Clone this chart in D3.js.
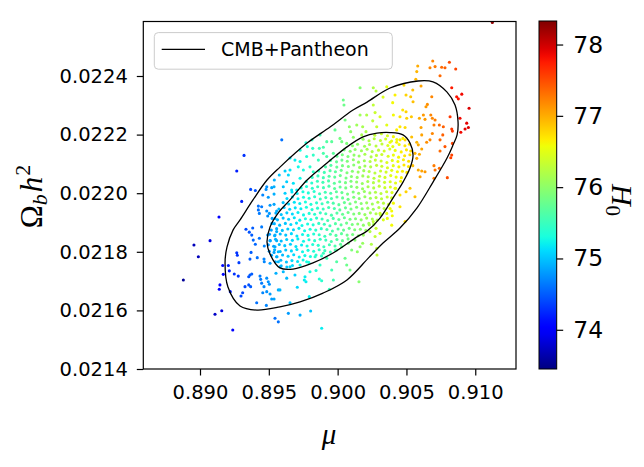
<!DOCTYPE html>
<html>
<head>
<meta charset="utf-8">
<script src="https://cdn.jsdelivr.net/npm/d3@7"></script>
<style>
  body { margin: 0; background: #fff; }
</style>
</head>
<body>
<div id="vis"></div>
<script>
const X_TICKS = [0.890, 0.895, 0.900, 0.905, 0.910];
const Y_TICKS = [0.0214, 0.0216, 0.0218, 0.0220, 0.0222, 0.0224];
const H0_TICKS = [74, 75, 76, 77, 78];
const MU_DOMAIN = [0.88588, 0.91296];
const OMB_DOMAIN = [0.0214, 0.022586];
const H0_DOMAIN = [73.45, 78.33];
const LEGEND_LABEL = "CMB+Pantheon";

// contour lines, [mu, Omega_b h^2]
const outerContour = [[0.90584,0.022383],[0.90693,0.022380],[0.90795,0.022345],[0.90853,0.022301],[0.90875,0.022243],[0.90868,0.022199],[0.90839,0.022165],[0.90795,0.022120],[0.90693,0.022038],[0.90577,0.021950],[0.90453,0.021881],[0.90330,0.021830],[0.90228,0.021781],[0.90068,0.021704],[0.89894,0.021659],[0.89727,0.021629],[0.89581,0.021612],[0.89414,0.021601],[0.89291,0.021615],[0.89203,0.021680],[0.89182,0.021762],[0.89196,0.021816],[0.89240,0.021874],[0.89291,0.021909],[0.89385,0.021977],[0.89487,0.022045],[0.89581,0.022089],[0.89778,0.022171],[0.89945,0.022226],[0.90112,0.022284],[0.90214,0.022311],[0.90381,0.022359]];
const innerContour = [[0.90286,0.022205],[0.90381,0.022207],[0.90475,0.022199],[0.90526,0.022171],[0.90548,0.022130],[0.90526,0.022086],[0.90475,0.022038],[0.90403,0.021984],[0.90308,0.021915],[0.90214,0.021871],[0.90141,0.021851],[0.89967,0.021796],[0.89821,0.021762],[0.89676,0.021741],[0.89581,0.021745],[0.89509,0.021792],[0.89487,0.021833],[0.89509,0.021885],[0.89574,0.021936],[0.89654,0.021977],[0.89778,0.022045],[0.89923,0.022103],[0.90068,0.022158],[0.90185,0.022192]];

// samples, [mu, Omega_b h^2, H0]
const tailSamples = [[0.88879,0.021704,73.55],[0.88956,0.021823,73.7],[0.88988,0.021783,73.7],[0.89073,0.021838,73.85],[0.89138,0.021919,74.0],[0.89109,0.021587,73.75],[0.89158,0.021599,73.85],[0.89238,0.021533,74.0],[0.89267,0.022076,74.2],[0.89320,0.022129,74.3],[0.89140,0.021672,74.0],[0.89145,0.021687,74.0],[0.89303,0.021972,74.2],[0.89368,0.022013,74.4],[0.89402,0.022009,74.45],[0.89594,0.022182,74.6],[0.89545,0.021573,74.6],[0.89569,0.021561,74.6],[0.89642,0.021590,74.8],[0.89727,0.021584,74.9],[0.89804,0.021598,75.0],[0.89884,0.021539,75.2],[0.90163,0.022360,75.95],[0.90259,0.022360,76.2],[0.90279,0.022349,76.25],[0.90357,0.022363,76.5],[0.90041,0.022318,75.8],[0.90046,0.022301,75.8],[0.91124,0.022583,78.25]];

const lowerLeftSamples = [[0.89165,0.021753,74.1],[0.89206,0.021753,74.2],[0.89169,0.021723,74.1],[0.89213,0.021735,74.2],[0.89249,0.021724,74.3],[0.89278,0.021717,74.3],[0.89267,0.021797,74.3],[0.89271,0.021788,74.3],[0.89283,0.021763,74.35],[0.89220,0.021664,74.2],[0.89298,0.021649,74.4],[0.89310,0.021660,74.4],[0.89327,0.021681,74.4],[0.89354,0.021715,74.45],[0.89363,0.021721,74.5],[0.89376,0.021724,74.5],[0.89354,0.021687,74.45],[0.89368,0.021681,74.5],[0.89363,0.021775,74.5],[0.89371,0.021798,74.5],[0.89416,0.021780,74.6],[0.89412,0.021626,74.6],[0.89482,0.021617,74.7],[0.89334,0.021877,74.4],[0.89358,0.021867,74.45],[0.89383,0.021881,74.5],[0.89376,0.021857,74.5],[0.89387,0.021840,74.55],[0.89402,0.021826,74.55],[0.89448,0.021885,74.65],[0.89431,0.021846,74.6],[0.89465,0.021775,74.7],[0.89436,0.021717,74.65],[0.89441,0.021706,74.65],[0.89448,0.021693,74.65],[0.89485,0.021710,74.75],[0.89496,0.021698,74.75],[0.89504,0.021689,74.75],[0.89465,0.021681,74.7],[0.89456,0.021660,74.7],[0.89485,0.021664,74.75],[0.89509,0.021656,74.8],[0.89521,0.021639,74.8],[0.89538,0.021639,74.85],[0.89569,0.021670,74.9],[0.89523,0.021897,74.85],[0.89557,0.021869,74.9],[0.89545,0.021857,74.9],[0.89492,0.021857,74.8],[0.89509,0.021838,74.8],[0.89557,0.021838,74.9],[0.89545,0.021817,74.9],[0.89538,0.021798,74.85],[0.89569,0.021800,74.95],[0.89557,0.021783,74.9],[0.89569,0.021766,74.95],[0.89552,0.021727,74.9],[0.89581,0.021749,75.0],[0.89467,0.021766,74.7],[0.89509,0.021761,74.8],[0.89467,0.021820,74.7]];

const upperLeftSamples = [[0.89485,0.022022,74.75],[0.89480,0.022013,74.75],[0.89521,0.022019,74.85],[0.89538,0.022022,74.9],[0.89456,0.021994,74.7],[0.89496,0.021986,74.8],[0.89538,0.021997,74.9],[0.89576,0.022062,75.0],[0.89540,0.022045,74.9],[0.89424,0.021956,74.6],[0.89448,0.021954,74.65],[0.89509,0.021959,74.8],[0.89538,0.021962,74.85],[0.89424,0.021943,74.6],[0.89485,0.021939,74.75],[0.89504,0.021931,74.8],[0.89557,0.021939,74.9],[0.89431,0.021931,74.65],[0.89492,0.021922,74.75],[0.89545,0.021914,74.9],[0.89770,0.022172,75.35],[0.89780,0.022159,75.35],[0.89819,0.022153,75.45],[0.89867,0.022153,75.55],[0.89896,0.022157,75.6],[0.89921,0.022176,75.65],[0.89957,0.022176,75.7],[0.90017,0.022187,75.85],[0.90030,0.022176,75.85],[0.90095,0.022210,76.0],[0.90085,0.022227,76.0],[0.90139,0.022233,76.1],[0.90182,0.022227,76.15],[0.90211,0.022267,76.2],[0.90272,0.022275,76.35],[0.90308,0.022261,76.45],[0.90255,0.022247,76.3],[0.90284,0.022227,76.35],[0.90206,0.022210,76.2],[0.90175,0.022199,76.15],[0.90114,0.022191,76.0],[0.90066,0.022170,75.9],[0.89969,0.022136,75.7],[0.89921,0.022125,75.6],[0.89896,0.022136,75.6],[0.89823,0.022130,75.45],[0.89860,0.022113,75.5],[0.89775,0.022125,75.35],[0.89727,0.022108,75.25],[0.89690,0.022113,75.2],[0.89654,0.022079,75.15],[0.89618,0.022076,75.05],[0.89642,0.022062,75.1],[0.89714,0.022090,75.25],[0.89751,0.022079,75.3],[0.89799,0.022090,75.4],[0.89823,0.022073,75.45],[0.89727,0.022051,75.25],[0.89678,0.022034,75.15],[0.89630,0.022039,75.05],[0.89605,0.022022,75.0],[0.89666,0.022011,75.15],[0.89618,0.022000,75.05],[0.89703,0.022011,75.2],[0.90259,0.022301,76.3],[0.90163,0.022267,76.1],[0.90357,0.022233,76.5],[0.90405,0.022267,76.6],[0.90330,0.022328,76.45],[0.90417,0.022335,76.65],[0.89872,0.022199,75.55],[0.89981,0.022216,75.75],[0.89814,0.022182,75.45],[0.89727,0.022147,75.3],[0.89654,0.022120,75.15],[0.90054,0.022250,75.85]];

const lowerSamples = [[0.89581,0.021670,74.95],[0.89707,0.021679,75.1],[0.89758,0.021704,75.2],[0.89770,0.021698,75.2],[0.89867,0.021707,75.35],[0.89884,0.021701,75.4],[0.89940,0.021672,75.5],[0.89969,0.021704,75.55],[0.89843,0.021736,75.35],[0.89957,0.021738,75.55],[0.90066,0.021755,75.8],[0.90155,0.021698,75.95],[0.90090,0.021738,75.85],[0.89654,0.021626,75.0],[0.89794,0.021647,75.2],[0.90286,0.021789,76.3],[0.90284,0.021812,76.3],[0.90245,0.021826,76.2],[0.90143,0.021800,76.0],[0.90102,0.021806,75.9],[0.90182,0.021829,76.05],[0.90230,0.021892,76.2],[0.90308,0.021863,76.4],[0.90332,0.021909,76.45],[0.90308,0.021931,76.4],[0.89654,0.021749,75.1],[0.89727,0.021755,75.25],[0.89775,0.021766,75.3],[0.89836,0.021783,75.4],[0.89896,0.021795,75.5],[0.89921,0.021778,75.55],[0.89993,0.021806,75.7],[0.90030,0.021817,75.75],[0.90078,0.021829,75.85],[0.90126,0.021840,75.95],[0.90187,0.021857,76.05],[0.90235,0.021869,76.2],[0.90163,0.021817,76.0],[0.90054,0.021778,75.8],[0.89993,0.021766,75.65],[0.89872,0.021755,75.45],[0.89799,0.021732,75.3],[0.89763,0.021715,75.2],[0.89690,0.021721,75.05],[0.89630,0.021710,74.95],[0.89605,0.021732,74.95]];

const rightSamples = [[0.90586,0.022165,77.0],[0.90611,0.022151,77.05],[0.90562,0.022136,76.95],[0.90594,0.022133,77.0],[0.90575,0.022119,77.0],[0.90546,0.022094,76.9],[0.90586,0.022079,77.0],[0.90611,0.022076,77.05],[0.90635,0.022073,77.1],[0.90700,0.022094,77.25],[0.90739,0.022085,77.35],[0.90708,0.022079,77.3],[0.90744,0.022144,77.35],[0.90780,0.022159,77.45],[0.90797,0.022053,77.5],[0.90822,0.022121,77.55],[0.90829,0.022130,77.55],[0.90700,0.022051,77.25],[0.90599,0.022056,77.05],[0.90526,0.022017,76.85],[0.90562,0.021988,76.9],[0.90497,0.022005,76.8],[0.90453,0.021954,76.7],[0.90397,0.021923,76.6],[0.90393,0.021939,76.6],[0.90490,0.021903,76.75],[0.90361,0.021914,76.55],[0.90279,0.021880,76.35],[0.90272,0.021852,76.3],[0.90381,0.021948,76.55],[0.90417,0.022017,76.65],[0.90453,0.021994,76.7],[0.90405,0.021966,76.6],[0.90357,0.021931,76.5],[0.90393,0.021891,76.6],[0.90259,0.021903,76.3]];

const upperRightSamples = [[0.90691,0.022451,77.2],[0.90812,0.022447,77.5],[0.90671,0.022428,77.2],[0.90708,0.022432,77.25],[0.90756,0.022430,77.35],[0.90780,0.022428,77.4],[0.90858,0.022424,77.55],[0.90582,0.022434,77.0],[0.90575,0.022415,76.95],[0.90744,0.022401,77.35],[0.90829,0.022360,77.75],[0.90865,0.022329,77.8],[0.90877,0.022322,77.8],[0.90902,0.022338,77.85],[0.90955,0.022290,77.95],[0.90889,0.022256,77.85],[0.90938,0.022239,77.9],[0.90926,0.022219,77.9],[0.90950,0.022224,77.95],[0.90895,0.022208,77.85],[0.90817,0.022261,77.6],[0.90829,0.022219,77.6],[0.90834,0.022212,77.6],[0.90568,0.022389,76.95],[0.90606,0.022366,77.05],[0.90482,0.022369,76.75],[0.90546,0.022352,76.9],[0.90497,0.022335,76.8],[0.90531,0.022329,76.85],[0.90548,0.022312,76.9],[0.90400,0.022309,76.6],[0.90684,0.022329,77.2],[0.90652,0.022303,77.15],[0.90642,0.022295,77.1],[0.90473,0.022284,76.7],[0.90497,0.022278,76.8],[0.90453,0.022261,76.7],[0.90502,0.022256,76.8],[0.90536,0.022261,76.85],[0.90594,0.022256,77.0],[0.90623,0.022267,77.1],[0.90635,0.022252,77.1],[0.90677,0.022267,77.2],[0.90688,0.022256,77.2],[0.90708,0.022250,77.25],[0.90739,0.022233,77.35],[0.90768,0.022227,77.4],[0.90700,0.022233,77.25],[0.90606,0.022224,77.05],[0.90490,0.022224,76.75],[0.90453,0.022227,76.7],[0.90429,0.022216,76.65],[0.90538,0.022192,76.9],[0.90611,0.022199,77.05],[0.90688,0.022204,77.2],[0.90764,0.022199,77.4],[0.90744,0.022182,77.35],[0.90834,0.022170,77.55],[0.90671,0.022182,77.2],[0.90405,0.022193,76.6],[0.90453,0.022182,76.7],[0.90490,0.022182,76.75],[0.90575,0.022174,76.95],[0.90647,0.022174,77.15],[0.90429,0.022174,76.65],[0.90381,0.022174,76.55]];

const coreSamples = [
[0.90270,0.022198,76.3],[0.90318,0.022203,76.35],[0.90362,0.022196,76.45],
[0.90185,0.022184,76.05],[0.90228,0.022179,76.2],[0.90266,0.022186,76.25],[0.90311,0.022180,76.3],[0.90349,0.022185,76.4],[0.90392,0.022178,76.5],[0.90430,0.022183,76.55],[0.90474,0.022187,76.65],
[0.90108,0.022162,75.95],[0.90145,0.022167,76.0],[0.90196,0.022160,76.1],[0.90232,0.022166,76.15],[0.90279,0.022161,76.25],[0.90322,0.022168,76.3],[0.90365,0.022163,76.45],[0.90401,0.022159,76.5],[0.90447,0.022166,76.6],[0.90489,0.022162,76.7],[0.90522,0.022167,76.7],
[0.90048,0.022148,75.85],[0.90091,0.022143,75.95],[0.90127,0.022149,76.0],[0.90173,0.022145,76.1],[0.90214,0.022150,76.15],[0.90251,0.022142,76.2],[0.90297,0.022147,76.3],[0.90338,0.022144,76.4],[0.90379,0.022151,76.45],[0.90418,0.022146,76.55],[0.90462,0.022141,76.65],[0.90500,0.022148,76.7],[0.90531,0.022144,76.75],
[0.89995,0.022126,75.75],[0.90034,0.022131,75.85],[0.90075,0.022125,75.9],[0.90119,0.022130,76.0],[0.90156,0.022127,76.05],[0.90198,0.022133,76.15],[0.90243,0.022124,76.2],[0.90282,0.022129,76.3],[0.90321,0.022132,76.35],[0.90367,0.022126,76.45],[0.90405,0.022130,76.55],[0.90443,0.022123,76.6],[0.90487,0.022128,76.7],[0.90525,0.022131,76.75],
[0.89948,0.022112,75.65],[0.89992,0.022107,75.75],[0.90031,0.022113,75.8],[0.90070,0.022109,75.9],[0.90114,0.022114,76.0],[0.90152,0.022106,76.05],[0.90194,0.022111,76.1],[0.90236,0.022108,76.2],[0.90274,0.022113,76.3],[0.90316,0.022110,76.35],[0.90358,0.022105,76.45],[0.90397,0.022112,76.5],[0.90438,0.022108,76.6],[0.90478,0.022114,76.65],[0.90516,0.022109,76.75],
[0.89912,0.022090,75.6],[0.89951,0.022095,75.65],[0.89994,0.022089,75.75],[0.90035,0.022094,75.85],[0.90078,0.022091,75.9],[0.90117,0.022096,75.95],[0.90160,0.022088,76.05],[0.90198,0.022093,76.1],[0.90240,0.022090,76.2],[0.90283,0.022095,76.3],[0.90321,0.022092,76.35],[0.90362,0.022087,76.45],[0.90404,0.022094,76.5],[0.90445,0.022090,76.6],[0.90482,0.022096,76.7],[0.90515,0.022091,76.7],
[0.89862,0.022076,75.5],[0.89903,0.022071,75.55],[0.89945,0.022077,75.65],[0.89984,0.022073,75.7],[0.90026,0.022078,75.8],[0.90068,0.022070,75.9],[0.90107,0.022075,75.95],[0.90149,0.022072,76.05],[0.90190,0.022077,76.1],[0.90229,0.022074,76.2],[0.90271,0.022069,76.25],[0.90312,0.022076,76.35],[0.90352,0.022072,76.4],[0.90393,0.022078,76.5],[0.90434,0.022073,76.6],[0.90471,0.022075,76.65],[0.90503,0.022071,76.7],
[0.89815,0.022054,75.45],[0.89857,0.022059,75.5],[0.89896,0.022053,75.55],[0.89938,0.022058,75.65],[0.89979,0.022055,75.7],[0.90019,0.022060,75.8],[0.90061,0.022052,75.85],[0.90100,0.022057,75.95],[0.90142,0.022054,76.0],[0.90183,0.022059,76.1],[0.90222,0.022056,76.15],[0.90264,0.022051,76.25],[0.90305,0.022058,76.3],[0.90344,0.022054,76.4],[0.90386,0.022060,76.5],[0.90425,0.022055,76.55],[0.90463,0.022053,76.65],
[0.89772,0.022040,75.35],[0.89812,0.022035,75.4],[0.89853,0.022041,75.5],[0.89893,0.022037,75.55],[0.89934,0.022042,75.6],[0.89976,0.022034,75.7],[0.90015,0.022039,75.75],[0.90057,0.022036,75.85],[0.90097,0.022041,75.9],[0.90138,0.022038,76.0],[0.90179,0.022033,76.05],[0.90219,0.022040,76.15],[0.90260,0.022036,76.2],[0.90300,0.022042,76.3],[0.90341,0.022037,76.35],[0.90382,0.022039,76.45],[0.90421,0.022035,76.5],[0.90458,0.022041,76.6],
[0.89735,0.022018,75.3],[0.89774,0.022023,75.35],[0.89816,0.022017,75.4],[0.89855,0.022022,75.5],[0.89897,0.022019,75.55],[0.89937,0.022024,75.6],[0.89978,0.022016,75.7],[0.90018,0.022021,75.75],[0.90059,0.022018,75.85],[0.90099,0.022023,75.9],[0.90140,0.022020,76.0],[0.90181,0.022015,76.05],[0.90221,0.022022,76.15],[0.90262,0.022018,76.2],[0.90302,0.022024,76.3],[0.90343,0.022019,76.35],[0.90383,0.022021,76.45],[0.90422,0.022017,76.5],
[0.89668,0.022004,75.15],[0.89706,0.021999,75.2],[0.89748,0.022005,75.3],[0.89787,0.022001,75.35],[0.89829,0.022006,75.4],[0.89869,0.021998,75.5],[0.89910,0.022003,75.55],[0.89950,0.022000,75.6],[0.89991,0.022005,75.7],[0.90031,0.022002,75.75],[0.90072,0.021997,75.85],[0.90113,0.022004,75.9],[0.90153,0.022000,76.0],[0.90194,0.022006,76.05],[0.90234,0.022001,76.1],[0.90275,0.022003,76.2],[0.90315,0.021999,76.25],[0.90356,0.022005,76.35],[0.90395,0.022002,76.45],
[0.89632,0.021982,75.1],[0.89671,0.021987,75.15],[0.89712,0.021981,75.2],[0.89752,0.021986,75.3],[0.89793,0.021983,75.35],[0.89833,0.021988,75.4],[0.89874,0.021980,75.5],[0.89914,0.021985,75.55],[0.89955,0.021982,75.6],[0.89995,0.021987,75.7],[0.90036,0.021984,75.75],[0.90076,0.021979,75.8],[0.90117,0.021986,75.9],[0.90157,0.021982,75.95],[0.90198,0.021988,76.05],[0.90238,0.021983,76.1],[0.90279,0.021985,76.2],[0.90319,0.021981,76.25],[0.90360,0.021987,76.35],[0.90392,0.021984,76.4],
[0.89604,0.021968,75.0],[0.89644,0.021963,75.1],[0.89685,0.021969,75.15],[0.89725,0.021965,75.2],[0.89766,0.021970,75.3],[0.89806,0.021962,75.35],[0.89847,0.021967,75.4],[0.89887,0.021964,75.5],[0.89928,0.021969,75.55],[0.89968,0.021966,75.6],[0.90009,0.021961,75.7],[0.90049,0.021968,75.75],[0.90090,0.021964,75.85],[0.90130,0.021970,75.9],[0.90171,0.021965,75.95],[0.90211,0.021967,76.05],[0.90252,0.021963,76.1],[0.90292,0.021969,76.2],[0.90333,0.021966,76.25],[0.90370,0.021962,76.35],
[0.89573,0.021946,74.95],[0.89611,0.021951,75.0],[0.89652,0.021945,75.1],[0.89692,0.021950,75.15],[0.89733,0.021947,75.2],[0.89773,0.021952,75.3],[0.89814,0.021944,75.35],[0.89854,0.021949,75.4],[0.89895,0.021946,75.5],[0.89935,0.021951,75.55],[0.89976,0.021948,75.6],[0.90016,0.021943,75.7],[0.90057,0.021950,75.75],[0.90097,0.021946,75.85],[0.90138,0.021952,75.9],[0.90178,0.021947,75.95],[0.90219,0.021949,76.05],[0.90259,0.021945,76.1],[0.90300,0.021951,76.2],[0.90338,0.021948,76.25],
[0.89551,0.021932,74.9],[0.89590,0.021927,75.0],[0.89631,0.021933,75.05],[0.89671,0.021929,75.1],[0.89712,0.021934,75.2],[0.89752,0.021926,75.25],[0.89793,0.021931,75.35],[0.89833,0.021928,75.4],[0.89874,0.021933,75.45],[0.89914,0.021930,75.55],[0.89955,0.021925,75.6],[0.89995,0.021932,75.65],[0.90036,0.021928,75.75],[0.90076,0.021934,75.8],[0.90117,0.021929,75.9],[0.90157,0.021931,75.95],[0.90198,0.021927,76.05],[0.90238,0.021933,76.1],[0.90279,0.021930,76.2],[0.90312,0.021926,76.25],
[0.89524,0.021914,74.85],[0.89563,0.021909,74.95],[0.89604,0.021915,75.0],[0.89644,0.021911,75.05],[0.89685,0.021916,75.15],[0.89725,0.021908,75.2],[0.89766,0.021913,75.3],[0.89806,0.021910,75.35],[0.89847,0.021915,75.4],[0.89887,0.021912,75.5],[0.89928,0.021907,75.55],[0.89968,0.021914,75.6],[0.90009,0.021910,75.7],[0.90049,0.021916,75.75],[0.90090,0.021911,75.85],[0.90130,0.021913,75.9],[0.90171,0.021909,76.0],[0.90211,0.021915,76.05],[0.90252,0.021912,76.15],[0.90287,0.021908,76.2],
[0.89540,0.021896,74.9],[0.89579,0.021891,74.95],[0.89620,0.021897,75.0],[0.89660,0.021893,75.1],[0.89701,0.021898,75.15],[0.89741,0.021890,75.25],[0.89782,0.021895,75.3],[0.89822,0.021892,75.35],[0.89863,0.021897,75.45],[0.89903,0.021894,75.5],[0.89944,0.021889,75.55],[0.89984,0.021896,75.65],[0.90025,0.021892,75.7],[0.90065,0.021898,75.8],[0.90106,0.021893,75.85],[0.90146,0.021895,75.95],[0.90187,0.021891,76.0],[0.90227,0.021897,76.1],[0.90262,0.021894,76.15],
[0.89518,0.021874,74.85],[0.89557,0.021879,74.9],[0.89598,0.021873,75.0],[0.89638,0.021878,75.05],[0.89679,0.021875,75.1],[0.89719,0.021880,75.2],[0.89760,0.021872,75.25],[0.89800,0.021877,75.3],[0.89841,0.021874,75.4],[0.89881,0.021879,75.45],[0.89922,0.021876,75.55],[0.89962,0.021871,75.6],[0.90003,0.021878,75.65],[0.90043,0.021874,75.75],[0.90084,0.021880,75.8],[0.90124,0.021875,75.9],[0.90165,0.021877,75.95],[0.90205,0.021873,76.05],
[0.89505,0.021860,74.8],[0.89542,0.021855,74.9],[0.89583,0.021861,74.95],[0.89623,0.021857,75.0],[0.89664,0.021862,75.1],[0.89704,0.021854,75.15],[0.89745,0.021859,75.25],[0.89785,0.021856,75.3],[0.89826,0.021861,75.35],[0.89866,0.021858,75.45],[0.89907,0.021853,75.5],[0.89947,0.021860,75.6],[0.89988,0.021856,75.65],[0.90028,0.021862,75.7],[0.90069,0.021857,75.8],[0.90109,0.021859,75.85],[0.90150,0.021855,75.95],
[0.89510,0.021838,74.85],[0.89549,0.021843,74.9],[0.89590,0.021837,74.95],[0.89630,0.021842,75.05],[0.89671,0.021839,75.1],[0.89711,0.021844,75.2],[0.89752,0.021836,75.25],[0.89792,0.021841,75.3],[0.89833,0.021838,75.4],[0.89873,0.021843,75.45],[0.89914,0.021840,75.5],[0.89954,0.021835,75.6],[0.89995,0.021842,75.65],[0.90035,0.021838,75.75],[0.90076,0.021844,75.8],
[0.89496,0.021824,74.8],[0.89535,0.021819,74.85],[0.89576,0.021825,74.95],[0.89616,0.021821,75.0],[0.89657,0.021826,75.05],[0.89697,0.021818,75.15],[0.89738,0.021823,75.2],[0.89778,0.021820,75.3],[0.89819,0.021825,75.35],[0.89859,0.021822,75.4],[0.89900,0.021817,75.5],[0.89940,0.021824,75.55],[0.89981,0.021820,75.6],[0.90021,0.021826,75.7],
[0.89503,0.021802,74.8],[0.89542,0.021807,74.9],[0.89583,0.021801,74.95],[0.89623,0.021806,75.0],[0.89664,0.021803,75.1],[0.89704,0.021808,75.15],[0.89745,0.021800,75.25],[0.89785,0.021805,75.3],[0.89826,0.021802,75.35],[0.89866,0.021807,75.45],[0.89907,0.021804,75.5],[0.89947,0.021799,75.55],[0.89982,0.021806,75.6],
[0.89520,0.021788,74.85],[0.89559,0.021783,74.9],[0.89600,0.021789,74.95],[0.89640,0.021785,75.05],[0.89681,0.021790,75.1],[0.89721,0.021782,75.2],[0.89762,0.021787,75.25],[0.89802,0.021784,75.3],[0.89843,0.021789,75.4],[0.89883,0.021786,75.45],
[0.89548,0.021766,74.9],[0.89587,0.021771,74.95],[0.89628,0.021765,75.0],[0.89668,0.021770,75.1],[0.89709,0.021767,75.15],[0.89749,0.021772,75.25],[0.89790,0.021764,75.3],
[0.89590,0.021752,74.95],[0.89631,0.021748,75.0],[0.89672,0.021753,75.1]
];

const WIDTH = 644;
const HEIGHT = 467;
const PLOT = { left: 143.3, right: 516, top: 21.5, bottom: 369 };
const CBAR = { left: 539, right: 556.7, top: 21, bottom: 369 };
const TICK_FONT = "DejaVu Sans";
const MATH_FONT = "Liberation Serif";

// matplotlib jet segment data
const JET = {
  r: [[0, 0], [0.35, 0], [0.66, 1], [0.89, 1], [1, 0.5]],
  g: [[0, 0], [0.125, 0], [0.375, 1], [0.64, 1], [0.91, 0], [1, 0]],
  b: [[0, 0.5], [0.11, 1], [0.34, 1], [0.65, 0], [1, 0]]
};
function seg(pts, t) {
  for (let i = 1; i < pts.length; i++) {
    if (t <= pts[i][0]) {
      const [x0, y0] = pts[i - 1], [x1, y1] = pts[i];
      return y0 + (y1 - y0) * (t - x0) / (x1 - x0);
    }
  }
  return pts[pts.length - 1][1];
}
function jet(t) {
  t = Math.max(0, Math.min(1, t));
  return d3.rgb(255 * seg(JET.r, t), 255 * seg(JET.g, t), 255 * seg(JET.b, t)).formatHex();
}

const x = d3.scaleLinear(MU_DOMAIN, [PLOT.left, PLOT.right]);
const y = d3.scaleLinear(OMB_DOMAIN, [PLOT.bottom, PLOT.top]);
const cbarScale = d3.scaleLinear(H0_DOMAIN, [CBAR.bottom, CBAR.top]);
const norm = d3.scaleLinear(H0_DOMAIN, [0, 1]);

const svg = d3.select("#vis")
  .append("svg")
    .attr("width", WIDTH)
    .attr("height", HEIGHT)
    .style("background", "#fff");

svg.append("clipPath").attr("id", "plot-clip")
  .append("rect")
    .attr("x", PLOT.left).attr("y", PLOT.top)
    .attr("width", PLOT.right - PLOT.left).attr("height", PLOT.bottom - PLOT.top);

const samples = [].concat(tailSamples, lowerLeftSamples, upperLeftSamples, lowerSamples,
                          rightSamples, upperRightSamples, coreSamples);

const plot = svg.append("g").attr("clip-path", "url(#plot-clip)");

plot.selectAll("circle")
  .data(samples)
  .enter()
  .append("circle")
    .attr("cx", d => x(d[0]))
    .attr("cy", d => y(d[1]))
    .attr("r", 1.55)
    .attr("fill", d => jet(norm(d[2])));

const contourLine = d3.line()
  .x(d => x(d[0]))
  .y(d => y(d[1]))
  .curve(d3.curveCatmullRomClosed.alpha(0.5));

plot.selectAll("path.contour")
  .data([outerContour, innerContour])
  .enter()
  .append("path")
    .attr("class", "contour")
    .attr("d", contourLine)
    .attr("fill", "none")
    .attr("stroke", "#000")
    .attr("stroke-width", 1.3);

// axes
function styleAxis(g, size) {
  g.select(".domain").remove();
  g.selectAll(".tick line").attr("stroke", "#000").attr("stroke-width", 1.2);
  g.selectAll(".tick text").attr("fill", "#000").attr("font-size", size);
  g.attr("font-family", TICK_FONT);
}

svg.append("g")
  .attr("transform", `translate(0,${PLOT.bottom})`)
  .call(d3.axisBottom(x).tickValues(X_TICKS).tickFormat(d3.format(".3f")).tickSize(6.5).tickPadding(10))
  .call(g => styleAxis(g, 19.5));

svg.append("g")
  .attr("transform", `translate(${PLOT.left},0)`)
  .call(d3.axisLeft(y).tickValues(Y_TICKS).tickFormat(d3.format(".4f")).tickSize(6.5).tickPadding(9))
  .call(g => styleAxis(g, 19.5));

svg.append("rect")
  .attr("x", PLOT.left).attr("y", PLOT.top)
  .attr("width", PLOT.right - PLOT.left).attr("height", PLOT.bottom - PLOT.top)
  .attr("fill", "none").attr("stroke", "#000").attr("stroke-width", 1.2);

// legend
const legend = svg.append("g");
legend.append("rect")
  .attr("x", 154.3).attr("y", 32.6).attr("width", 238).attr("height", 36.6)
  .attr("rx", 4)
  .attr("fill", "#fff").attr("fill-opacity", 0.8)
  .attr("stroke", "#cccccc").attr("stroke-width", 1);
legend.append("line")
  .attr("x1", 161.7).attr("x2", 205).attr("y1", 49.3).attr("y2", 49.3)
  .attr("stroke", "#000").attr("stroke-width", 1.3);
legend.append("text")
  .attr("x", 221).attr("y", 56)
  .attr("font-family", TICK_FONT).attr("font-size", 19)
  .text(LEGEND_LABEL);

// axis labels
svg.append("text")
  .attr("x", 329).attr("y", 444)
  .attr("text-anchor", "middle")
  .attr("font-family", MATH_FONT).attr("font-style", "italic").attr("font-size", 29)
  .text("μ");

const ylab = svg.append("text")
  .attr("transform", "translate(41.5,196.5) rotate(-90)")
  .attr("text-anchor", "middle")
  .attr("font-family", MATH_FONT).attr("font-size", 31);
ylab.append("tspan").text("Ω");
ylab.append("tspan").attr("font-style", "italic").attr("font-size", 22).attr("dy", 5).text("b");
ylab.append("tspan").attr("font-style", "italic").attr("dy", -5).attr("dx", 2).text("h");
ylab.append("tspan").attr("font-size", 22).attr("dy", -12).attr("dx", 1).text("2");

// colorbar
const grad = svg.append("defs").append("linearGradient")
  .attr("id", "jet-grad")
  .attr("x1", 0).attr("y1", 1).attr("x2", 0).attr("y2", 0);
grad.selectAll("stop")
  .data(d3.range(0, 1.0001, 0.02))
  .enter()
  .append("stop")
    .attr("offset", d => d)
    .attr("stop-color", d => jet(d));

svg.append("rect")
  .attr("x", CBAR.left).attr("y", CBAR.top)
  .attr("width", CBAR.right - CBAR.left).attr("height", CBAR.bottom - CBAR.top)
  .attr("fill", "url(#jet-grad)")
  .attr("stroke", "#000").attr("stroke-width", 1);

svg.append("g")
  .attr("transform", `translate(${CBAR.right},0)`)
  .call(d3.axisRight(cbarScale).tickValues(H0_TICKS).tickFormat(d3.format("d")).tickSize(6.5).tickPadding(10))
  .call(g => styleAxis(g, 23.5));

const clab = svg.append("text")
  .attr("transform", "translate(611.5,200) rotate(90)")
  .attr("text-anchor", "middle")
  .attr("font-family", MATH_FONT).attr("font-size", 30);
clab.append("tspan").attr("font-style", "italic").text("H");
clab.append("tspan").attr("font-size", 21).attr("dy", 6).text("0");
</script>
</body>
</html>
